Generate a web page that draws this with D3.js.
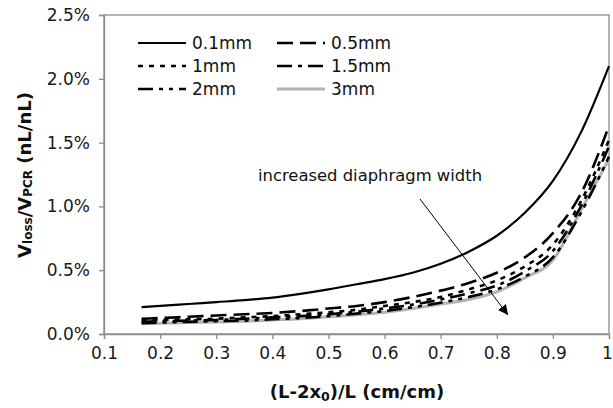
<!DOCTYPE html>
<html><head><meta charset="utf-8">
<script src="https://cdn.jsdelivr.net/npm/d3@7"></script>
<style>body{margin:0;background:#fff}svg{display:block}</style>
</head><body>
<svg id="c" width="613" height="408"></svg>
<script>
const xValues = [0.167,0.2,0.25,0.3,0.35,0.4,0.45,0.5,0.55,0.6,0.65,0.7,0.75,0.8,0.85,0.9,0.95,1.0];
const s01 = [0.21,0.22,0.235,0.25,0.265,0.285,0.315,0.35,0.39,0.43,0.48,0.55,0.645,0.77,0.95,1.20,1.58,2.10];
const s05 = [0.12,0.125,0.135,0.145,0.155,0.165,0.18,0.20,0.22,0.25,0.29,0.34,0.40,0.48,0.60,0.79,1.10,1.63];
const s1  = [0.105,0.11,0.115,0.12,0.13,0.14,0.155,0.17,0.19,0.22,0.25,0.29,0.35,0.42,0.53,0.70,1.04,1.52];
const s15 = [0.095,0.10,0.105,0.11,0.12,0.13,0.14,0.155,0.175,0.20,0.23,0.27,0.32,0.38,0.49,0.65,1.0,1.47];
const s2  = [0.085,0.09,0.095,0.10,0.105,0.115,0.125,0.14,0.16,0.18,0.21,0.245,0.29,0.35,0.45,0.60,0.95,1.39];
const s3  = [0.08,0.085,0.09,0.095,0.10,0.11,0.12,0.135,0.15,0.17,0.20,0.235,0.27,0.33,0.44,0.58,0.97,1.37];
const seriesNames = ["0.1mm","0.5mm","1mm","1.5mm","2mm","3mm"];
const xTicks = [0.1,0.2,0.3,0.4,0.5,0.6,0.7,0.8,0.9,1];
const yTicks = [0,0.5,1.0,1.5,2.0,2.5];

const styles = {
  "0.1mm": {color:"#000", w:2.2, dash:null},
  "0.5mm": {color:"#000", w:2.6, dash:"16,7"},
  "1mm":   {color:"#000", w:2.6, dash:"5,6"},
  "1.5mm": {color:"#000", w:2.6, dash:"15,6,4,6"},
  "2mm":   {color:"#000", w:2.6, dash:"15,6,4,6,4,6"},
  "3mm":   {color:"#b3b3b3", w:3, dash:null}
};
const seriesVals = {"0.1mm":s01,"0.5mm":s05,"1mm":s1,"1.5mm":s15,"2mm":s2,"3mm":s3};

const svg = d3.select("#c");
const L=104, R=609, T=15, B=334;
const x = d3.scaleLinear().domain([0.1,1]).range([L,R]);
const y = d3.scaleLinear().domain([0,2.5]).range([B,T]);
const font = "'DejaVu Sans', Verdana, sans-serif";

// frame
svg.append("rect").attr("x",L).attr("y",T).attr("width",R-L).attr("height",B-T)
  .attr("fill","none").attr("stroke","#8c8c8c").attr("stroke-width",1.3);

const xa = svg.append("g").attr("transform",`translate(0,${B})`)
  .call(d3.axisBottom(x).tickValues(xTicks).tickSize(5).tickPadding(8).tickFormat(d=>d===1?"1":d3.format(".1f")(d)));
const ya = svg.append("g").attr("transform",`translate(${L},0)`)
  .call(d3.axisLeft(y).tickValues(yTicks).tickSize(5).tickPadding(9).tickFormat(d=>d3.format(".1f")(d)+"%"));
[xa,ya].forEach(g=>{
  g.select(".domain").attr("stroke","#8c8c8c").attr("stroke-width",1.3);
  g.selectAll(".tick line").attr("stroke","#8c8c8c").attr("stroke-width",1.3);
  g.selectAll("text").attr("font-family",font).attr("font-size",17).attr("fill","#1a1a1a");
});
xa.selectAll(".tick text").filter(d=>d===1).attr("dx",-2);

const line = d3.line().x(d=>x(d[0])).y(d=>y(d[1])).curve(d3.curveMonotoneX);
["3mm","2mm","1.5mm","1mm","0.5mm","0.1mm"].forEach(n=>{
  const st = styles[n];
  svg.append("path").datum(xValues.map((v,i)=>[v,seriesVals[n][i]]))
    .attr("d",line).attr("fill","none").attr("stroke",st.color)
    .attr("stroke-width",st.w).attr("stroke-dasharray",st.dash);
});

// legend
const legPos = [[138,43],[277,43],[138,66],[277,66],[138,89],[277,89]];
seriesNames.forEach((n,i)=>{
  const [lx,ly]=legPos[i]; const st=styles[n];
  svg.append("line").attr("x1",lx).attr("x2",lx+48).attr("y1",ly).attr("y2",ly)
    .attr("stroke",st.color).attr("stroke-width",st.w).attr("stroke-dasharray",st.dash);
  svg.append("text").attr("x",lx+54).attr("y",ly+6).text(n)
    .attr("font-family",font).attr("font-size",17).attr("fill","#111");
});

// annotation
svg.append("defs").append("marker").attr("id","ah").attr("viewBox","0 0 10 10")
  .attr("refX",10).attr("refY",5).attr("markerWidth",10).attr("markerHeight",10)
  .attr("markerUnits","userSpaceOnUse").attr("orient","auto")
  .append("path").attr("d","M0,0L10,5L0,10z").attr("fill","#000");
svg.append("text").attr("x",258).attr("y",181).text("increased diaphragm width")
  .attr("font-family",font).attr("font-size",16.4).attr("fill","#111");
svg.append("line").attr("x1",420).attr("y1",199).attr("x2",508).attr("y2",315)
  .attr("stroke","#000").attr("stroke-width",1).attr("marker-end","url(#ah)");

// axis titles
const xt = svg.append("text").attr("x",357).attr("y",398).attr("text-anchor","middle")
  .attr("font-family",font).attr("font-size",18).attr("font-weight","bold").attr("fill","#111");
xt.append("tspan").text("(L-2x");
xt.append("tspan").text("0").attr("font-size",12.5).attr("dy",3);
xt.append("tspan").text(")/L (cm/cm)").attr("dy",-3);

const yt = svg.append("text").attr("transform","translate(31,175) rotate(-90)").attr("text-anchor","middle")
  .attr("font-family",font).attr("font-size",18).attr("font-weight","bold").attr("fill","#111");
yt.append("tspan").text("V");
yt.append("tspan").text("loss").attr("font-size",12).attr("dy",1);
yt.append("tspan").text("/V").attr("dy",-1);
yt.append("tspan").text("PCR").attr("font-size",12).attr("dy",1);
yt.append("tspan").text(" (nL/nL)").attr("dy",-1);
</script>
</body></html>
